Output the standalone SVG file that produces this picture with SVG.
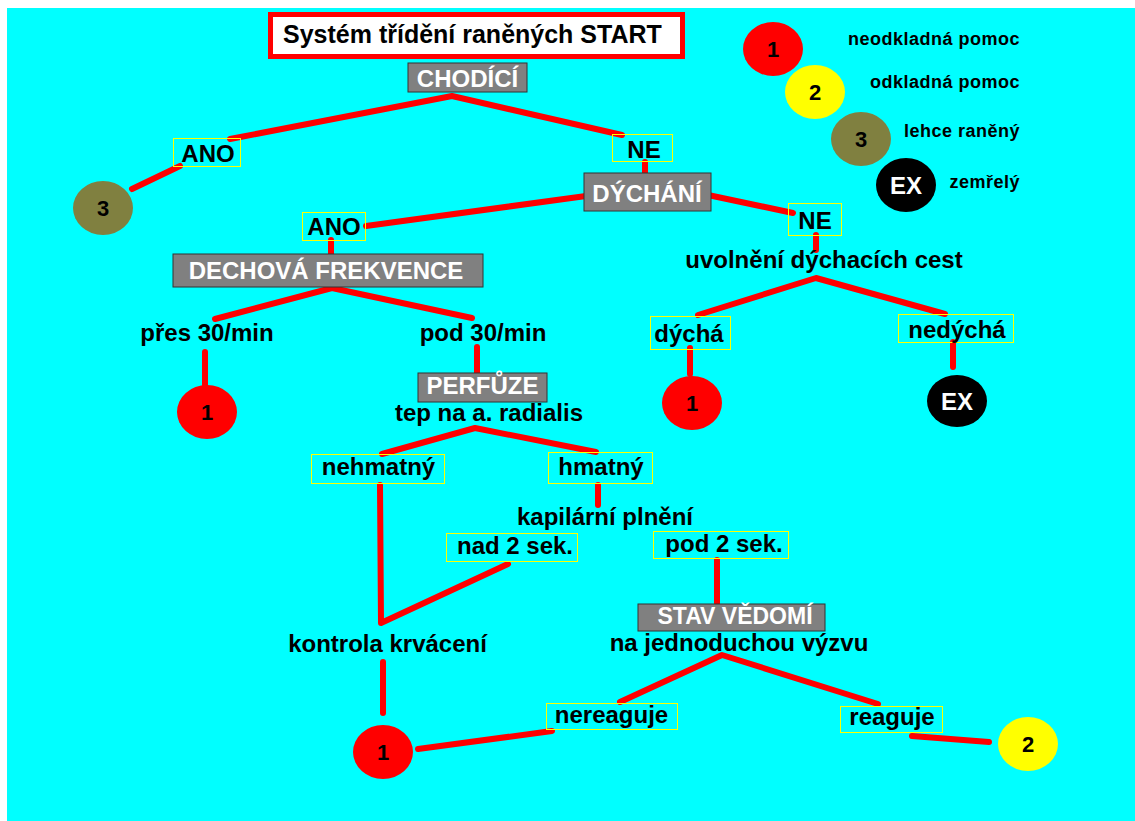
<svg xmlns="http://www.w3.org/2000/svg" width="1135" height="821" viewBox="0 0 1135 821">
<style>
text{font-family:"Liberation Sans",Arial,sans-serif;font-weight:bold;fill:#000}
.c{text-anchor:middle}
.w{fill:#fff}
.lbl{font-size:24px}
.leg{font-size:18px;letter-spacing:0.5px;text-anchor:end}
.yb{fill:none;stroke:#ffff00;stroke-width:1}
.gb{fill:#808080;stroke:#333;stroke-width:1}
.cn line,.cn polyline{stroke:#ff0000;stroke-width:6;stroke-linecap:round;stroke-linejoin:round;fill:none}
.r{fill:#ff0000}.y{fill:#ffff00}.o{fill:#808040}.k{fill:#000}
</style>
<rect x="0" y="0" width="1135" height="821" fill="#fff"/>
<rect x="7" y="8" width="1128" height="813" fill="#00ffff"/>
<g id="connectors" class="cn">
<polyline points="230,139 452,96 622,135"/>
<line x1="180" y1="166" x2="132" y2="189"/>
<line x1="645" y1="162" x2="645" y2="173"/>
<line x1="366" y1="226" x2="586" y2="196"/>
<line x1="331" y1="240" x2="331" y2="254"/>
<line x1="708" y1="195" x2="793" y2="213"/>
<line x1="816" y1="235" x2="816" y2="250"/>
<polyline points="698,315 816,278 945,314"/>
<line x1="690" y1="348" x2="690" y2="374"/>
<line x1="953" y1="342" x2="953" y2="367"/>
<polyline points="215,319 332,288 472,318"/>
<line x1="205" y1="352" x2="205" y2="385"/>
<line x1="477" y1="347" x2="477" y2="373"/>
<polyline points="382,454 475,428 596,452"/>
<line x1="598" y1="485" x2="598" y2="505"/>
<polyline points="380,485 381,623 508,564"/>
<line x1="717" y1="560" x2="717" y2="603"/>
<polyline points="620,702 722,655 878,704"/>
<line x1="552" y1="731" x2="418" y2="749"/>
<line x1="912" y1="736" x2="989" y2="742"/>
<line x1="383" y1="662" x2="383" y2="713"/>
</g>
<g id="title"><rect x="270.5" y="14.5" width="412" height="42" fill="#fff" stroke="#ff0000" stroke-width="5"/><text x="283" y="43" style="font-size:25px">Systém třídění raněných START</text></g>
<g id="chodici"><rect class="gb" x="408" y="63" width="119" height="29"/><text class="c w lbl" x="467.5" y="87">CHODÍCÍ</text></g>
<g id="ano1"><rect class="yb" x="173.5" y="138.5" width="67" height="28"/><text class="c lbl" x="208" y="162">ANO</text></g>
<g id="c3"><ellipse class="o" cx="103" cy="208" rx="30" ry="27"/><text class="c" x="103" y="216" style="font-size:22px">3</text></g>
<g id="ne1"><rect class="yb" x="612.5" y="134.5" width="60" height="27"/><text class="c lbl" x="644" y="158">NE</text></g>
<g id="dychani"><rect class="gb" x="584" y="173" width="127" height="38"/><text class="c w lbl" x="647" y="202">DÝCHÁNÍ</text></g>
<g id="ano2"><rect class="yb" x="302.5" y="212.5" width="63" height="28"/><text class="c lbl" x="334" y="235">ANO</text></g>
<g id="ne2"><rect class="yb" x="788.5" y="203.5" width="53" height="32"/><text class="c lbl" x="815" y="229">NE</text></g>
<g id="uvolneni"><text class="c lbl" x="824" y="268">uvolnění dýchacích cest</text></g>
<g id="dechova"><rect class="gb" x="173" y="254" width="310" height="33"/><text class="c w lbl" x="326" y="279">DECHOVÁ FREKVENCE</text></g>
<g id="pres30"><text class="c lbl" x="207" y="341">přes 30/min</text></g>
<g id="pod30"><text class="c lbl" x="483" y="341">pod 30/min</text></g>
<g id="c1a"><ellipse class="r" cx="207" cy="412" rx="30" ry="27"/><text class="c" x="207" y="420" style="font-size:22px">1</text></g>
<g id="perfuze"><rect class="gb" x="418" y="373" width="129" height="29"/><text class="c w lbl" x="482.5" y="394">PERFŮZE</text></g>
<g id="tep"><text class="c lbl" x="489" y="421">tep na a. radialis</text></g>
<g id="dycha"><rect class="yb" x="650.5" y="316.5" width="80" height="33"/><text class="c lbl" x="689" y="342">dýchá</text></g>
<g id="nedycha"><rect class="yb" x="898.5" y="314.5" width="115" height="28"/><text class="c lbl" x="957" y="338">nedýchá</text></g>
<g id="c1b"><ellipse class="r" cx="692" cy="403" rx="30" ry="27"/><text class="c" x="692" y="411" style="font-size:22px">1</text></g>
<g id="ex1"><ellipse class="k" cx="957" cy="401" rx="30" ry="26"/><text class="c w" x="957" y="410" style="font-size:24px">EX</text></g>
<g id="nehmatny"><rect class="yb" x="311.5" y="454.5" width="133" height="29"/><text class="c lbl" x="378.5" y="475">nehmatný</text></g>
<g id="hmatny"><rect class="yb" x="548.5" y="452.5" width="104" height="31"/><text class="c lbl" x="601" y="475">hmatný</text></g>
<g id="kapilarni"><text class="c lbl" x="605" y="525">kapilární plnění</text></g>
<g id="nad2"><rect class="yb" x="446.5" y="533.5" width="131" height="28"/><text class="c lbl" x="515" y="554">nad 2 sek.</text></g>
<g id="pod2"><rect class="yb" x="653.5" y="531.5" width="135" height="27"/><text class="c lbl" x="724" y="552">pod 2 sek.</text></g>
<g id="stav"><rect class="gb" x="638" y="604" width="187" height="27"/><text class="c w" x="735" y="624" style="font-size:23px">STAV VĚDOMÍ</text></g>
<g id="najedno"><text class="c lbl" x="739" y="651">na jednoduchou výzvu</text></g>
<g id="kontrola"><text class="c lbl" x="387.5" y="652">kontrola krvácení</text></g>
<g id="nereaguje"><rect class="yb" x="546.5" y="703.5" width="131" height="26"/><text class="c lbl" x="611.5" y="723">nereaguje</text></g>
<g id="reaguje"><rect class="yb" x="840.5" y="706.5" width="102" height="26"/><text class="c lbl" x="892" y="725">reaguje</text></g>
<g id="c1c"><ellipse class="r" cx="383" cy="752" rx="30" ry="27"/><text class="c" x="383" y="760" style="font-size:22px">1</text></g>
<g id="c2"><ellipse class="y" cx="1028" cy="744" rx="30" ry="27"/><text class="c" x="1028" y="752" style="font-size:22px">2</text></g>
<g id="legend">
<ellipse class="r" cx="773" cy="49" rx="30" ry="27"/><text class="c" x="773" y="57" style="font-size:22px">1</text>
<ellipse class="y" cx="815" cy="92" rx="30" ry="27"/><text class="c" x="815" y="100" style="font-size:22px">2</text>
<ellipse class="o" cx="861" cy="139" rx="30" ry="27"/><text class="c" x="861" y="147" style="font-size:22px">3</text>
<ellipse class="k" cx="906" cy="185" rx="30" ry="27"/><text class="c w" x="906" y="194" style="font-size:24px">EX</text>
<text class="leg" x="1020" y="45">neodkladná pomoc</text>
<text class="leg" x="1020" y="88">odkladná pomoc</text>
<text class="leg" x="1020" y="137">lehce raněný</text>
<text class="leg" x="1020" y="188">zemřelý</text>
</g>
</svg>
